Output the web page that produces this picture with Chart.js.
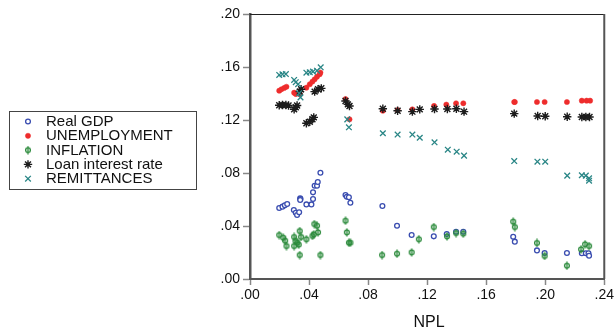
<!DOCTYPE html>
<html>
<head>
<meta charset="utf-8">
<script src="https://cdn.jsdelivr.net/npm/chart.js@4.4.0/dist/chart.umd.min.js"></script>
<style>
    html, body { margin: 0; padding: 0; background: #fff; }
    #wrap { position: relative; width: 616px; height: 331px; }
</style>
</head>
<body>
<div id="wrap"><canvas id="chart" width="616" height="331"></canvas></div>
<script>
// Values: [NPL, value]
const realGdp = [
    [0.0198, 0.0536], [0.0220, 0.0546], [0.0236, 0.0556], [0.0252, 0.0566], [0.0297, 0.0521],
    [0.0310, 0.0500], [0.0319, 0.0483], [0.0333, 0.0503], [0.0340, 0.0610], [0.0342, 0.0603],
    [0.0340, 0.0596], [0.0382, 0.0563], [0.0416, 0.0563], [0.0427, 0.0604], [0.0427, 0.0654],
    [0.0438, 0.0704], [0.0454, 0.0704], [0.0459, 0.0732], [0.0477, 0.0802], [0.0647, 0.0634],
    [0.0656, 0.0621], [0.0670, 0.0617], [0.0680, 0.0576], [0.0897, 0.0551], [0.0996, 0.0402],
    [0.1095, 0.0332], [0.1245, 0.0322], [0.1333, 0.0340], [0.1396, 0.0357], [0.1445, 0.0357],
    [0.1783, 0.0319], [0.1794, 0.0282], [0.1944, 0.0216], [0.1996, 0.0196], [0.2147, 0.0196],
    [0.2248, 0.0194], [0.2275, 0.0194], [0.2293, 0.0194], [0.2297, 0.0176]
];
const unemployment = [
    [0.0198, 0.1421], [0.0213, 0.1432], [0.0232, 0.1442], [0.0247, 0.1451], [0.0299, 0.1406],
    [0.0310, 0.1396], [0.0337, 0.1394], [0.0382, 0.1444], [0.0405, 0.1470], [0.0423, 0.1490],
    [0.0438, 0.1507], [0.0454, 0.1527], [0.0472, 0.1545], [0.0477, 0.1558], [0.0647, 0.1358],
    [0.0674, 0.1205], [0.0900, 0.1270], [0.1000, 0.1275], [0.1100, 0.1280], [0.1247, 0.1306],
    [0.1330, 0.1316], [0.1396, 0.1326], [0.1445, 0.1326], [0.1790, 0.1336], [0.1794, 0.1336],
    [0.1944, 0.1336], [0.1996, 0.1336], [0.2147, 0.1336], [0.2248, 0.1346], [0.2280, 0.1346],
    [0.2304, 0.1346]
];
const inflation = [
    [0.0198, 0.0332], [0.0225, 0.0312], [0.0238, 0.0289], [0.0247, 0.0249], [0.0299, 0.0317],
    [0.0308, 0.0287], [0.0299, 0.0249], [0.0321, 0.0274], [0.0330, 0.0259], [0.0337, 0.0362],
    [0.0346, 0.0317], [0.0337, 0.0181], [0.0382, 0.0300], [0.0423, 0.0325], [0.0432, 0.0337],
    [0.0436, 0.0415], [0.0454, 0.0402], [0.0461, 0.0352], [0.0477, 0.0181], [0.0647, 0.0440],
    [0.0656, 0.0352], [0.0670, 0.0274], [0.0680, 0.0274], [0.0895, 0.0181], [0.0996, 0.0191],
    [0.1095, 0.0201], [0.1144, 0.0300], [0.1245, 0.0392], [0.1335, 0.0322], [0.1396, 0.0347],
    [0.1445, 0.0342], [0.1783, 0.0433], [0.1794, 0.0392], [0.1944, 0.0272], [0.1996, 0.0174],
    [0.2147, 0.0100], [0.2243, 0.0224], [0.2270, 0.0262], [0.2297, 0.0249]
];
const loanRate = [
    [0.0198, 0.1311], [0.0220, 0.1313], [0.0243, 0.1313], [0.0261, 0.1310], [0.0299, 0.1280],
    [0.0310, 0.1296], [0.0319, 0.1310], [0.0337, 0.1414], [0.0346, 0.1432], [0.0382, 0.1175],
    [0.0405, 0.1187], [0.0423, 0.1205], [0.0432, 0.1220], [0.0438, 0.1414], [0.0461, 0.1432],
    [0.0483, 0.1439], [0.0647, 0.1343], [0.0663, 0.1318], [0.0674, 0.1306], [0.0900, 0.1285],
    [0.1000, 0.1270], [0.1100, 0.1263], [0.1150, 0.1280], [0.1250, 0.1283], [0.1337, 0.1283],
    [0.1398, 0.1285], [0.1450, 0.1263], [0.1790, 0.1248], [0.1949, 0.1230], [0.2000, 0.1228],
    [0.2149, 0.1225], [0.2248, 0.1223], [0.2275, 0.1223], [0.2300, 0.1223]
];
const remittances = [
    [0.0198, 0.1540], [0.0220, 0.1545], [0.0243, 0.1547], [0.0299, 0.1502], [0.0310, 0.1485],
    [0.0326, 0.1470], [0.0333, 0.1402], [0.0342, 0.1371], [0.0382, 0.1557], [0.0405, 0.1560],
    [0.0427, 0.1565], [0.0454, 0.1572], [0.0479, 0.1598], [0.0659, 0.1205], [0.0670, 0.1145],
    [0.0900, 0.1100], [0.1000, 0.1090], [0.1100, 0.1090], [0.1150, 0.1066], [0.1250, 0.1032],
    [0.1340, 0.0976], [0.1400, 0.0961], [0.1450, 0.0931], [0.1790, 0.0890], [0.1947, 0.0885],
    [0.2000, 0.0885], [0.2149, 0.0780], [0.2248, 0.0783], [0.2275, 0.0780], [0.2297, 0.0760],
    [0.2297, 0.0742]
];
const seriesNames = ['Real GDP', 'UNEMPLOYMENT', 'INFLATION', 'Loan interest rate', 'REMITTANCES'];
const xTitle = 'NPL';

// Marker colours
const BLUE = '#3a4db0';
const RED = '#ee2c2c';
const GREEN = '#2b8a3b';
const BLACK = '#1c1c1c';
const TEAL = '#2a8686';

// Inflation marker: small circle with a vertical bar through it
function phiMarker() {
    const c = document.createElement('canvas');
    c.width = 8; c.height = 9;
    const g = c.getContext('2d');
    g.strokeStyle = GREEN;
    g.lineWidth = 1.3;
    g.beginPath(); g.arc(4, 4.5, 2.4, 0, Math.PI * 2); g.stroke();
    g.beginPath(); g.moveTo(4, 0.5); g.lineTo(4, 8.5); g.stroke();
    return c;
}
const phi = phiMarker();

const styles = [
    { pointStyle: 'circle', radius: 2.4, borderWidth: 1.3, borderColor: BLUE, backgroundColor: '#fff' },
    { pointStyle: 'circle', radius: 2.6, borderWidth: 0.5, borderColor: RED, backgroundColor: RED },
    { pointStyle: phi, radius: 4, borderWidth: 0, borderColor: GREEN, backgroundColor: GREEN },
    { pointStyle: 'star', radius: 4.2, borderWidth: 1.4, borderColor: BLACK, backgroundColor: BLACK },
    { pointStyle: 'crossRot', radius: 4, borderWidth: 1.3, borderColor: TEAL, backgroundColor: TEAL }
];
const allData = [realGdp, unemployment, inflation, loanRate, remittances];

const toPts = arr => arr.map(p => ({ x: p[0], y: p[1] }));
const fmt = v => Number(v).toFixed(2).replace(/^0/, '');

function drawMarker(ctx, s, x, y) {
    ctx.save();
    ctx.strokeStyle = s.borderColor;
    ctx.fillStyle = s.backgroundColor;
    ctx.lineWidth = s.borderWidth;
    const r = s.radius;
    if (s.pointStyle === 'circle') {
        ctx.beginPath(); ctx.arc(x, y, r, 0, Math.PI * 2);
        ctx.fill(); ctx.stroke();
    } else if (s.pointStyle === 'star') {
        ctx.beginPath();
        for (let i = 0; i < 4; i++) {
            const a = i * Math.PI / 4;
            ctx.moveTo(x - Math.cos(a) * r, y - Math.sin(a) * r);
            ctx.lineTo(x + Math.cos(a) * r, y + Math.sin(a) * r);
        }
        ctx.stroke();
    } else if (s.pointStyle === 'crossRot') {
        const d = r * 0.707;
        ctx.beginPath();
        ctx.moveTo(x - d, y - d); ctx.lineTo(x + d, y + d);
        ctx.moveTo(x + d, y - d); ctx.lineTo(x - d, y + d);
        ctx.stroke();
    } else {
        ctx.drawImage(s.pointStyle, x - s.pointStyle.width / 2, y - s.pointStyle.height / 2);
    }
    ctx.restore();
}

// Frame on top/right, boxed legend on the left and the axis title
const decorations = {
    id: 'decorations',
    afterDraw(chart) {
        const { ctx, chartArea: a } = chart;
        ctx.save();
        ctx.strokeStyle = '#222';
        ctx.lineWidth = 1.2;
        ctx.beginPath(); ctx.moveTo(a.left, a.top + 0.5); ctx.lineTo(a.right, a.top + 0.5); ctx.stroke();
        ctx.strokeStyle = '#555';
        ctx.lineWidth = 2;
        ctx.beginPath(); ctx.moveTo(a.right, a.top); ctx.lineTo(a.right, a.bottom); ctx.stroke();

        // legend
        ctx.strokeStyle = '#444';
        ctx.lineWidth = 1;
        ctx.strokeRect(9.5, 111.5, 187, 78);
        ctx.font = '15px "Liberation Sans", Arial, sans-serif';
        ctx.fillStyle = '#111';
        ctx.textBaseline = 'middle';
        seriesNames.forEach((name, i) => {
            const y = 121.5 + i * 14.3;
            drawMarker(ctx, styles[i], 28, y);
            ctx.fillText(name, 46, y + 0.5);
        });

        // x axis title
        ctx.font = '16px "Liberation Sans", Arial, sans-serif';
        ctx.textAlign = 'center';
        ctx.fillText(xTitle, 429, 323);
        ctx.restore();
    }
};

const tickFont = { family: '"Liberation Sans", Arial, sans-serif', size: 14 };

new Chart(document.getElementById('chart'), {
    type: 'scatter',
    data: {
        datasets: allData.map((arr, i) => ({
            label: seriesNames[i],
            data: toPts(arr),
            order: 5 - i,
            pointStyle: styles[i].pointStyle,
            pointRadius: styles[i].radius,
            pointBorderWidth: styles[i].borderWidth,
            borderColor: styles[i].borderColor,
            backgroundColor: styles[i].backgroundColor,
            pointHoverRadius: styles[i].radius
        }))
    },
    options: {
        responsive: false,
        animation: false,
        layout: { padding: { left: 0, top: 14, right: 10, bottom: 0 } },
        plugins: { legend: { display: false }, tooltip: { enabled: false } },
        scales: {
            x: {
                type: 'linear',
                min: 0, max: 0.24,
                afterFit: s => { s.height = 52; },
                ticks: { stepSize: 0.04, callback: fmt, color: '#111', font: tickFont, padding: 2, maxRotation: 0 },
                grid: { drawOnChartArea: false, drawTicks: true, tickLength: 6, tickColor: '#888', tickWidth: 1.5 },
                border: { color: '#555', width: 2 }
            },
            y: {
                type: 'linear',
                min: 0, max: 0.2,
                afterFit: s => { s.width = 250; },
                ticks: { stepSize: 0.04, callback: fmt, color: '#111', font: tickFont, padding: 3 },
                grid: { drawOnChartArea: false, drawTicks: true, tickLength: 7, tickColor: '#888', tickWidth: 1.5 },
                border: { color: '#555', width: 2.5 }
            }
        }
    },
    plugins: [decorations]
});
</script>
</body>
</html>
